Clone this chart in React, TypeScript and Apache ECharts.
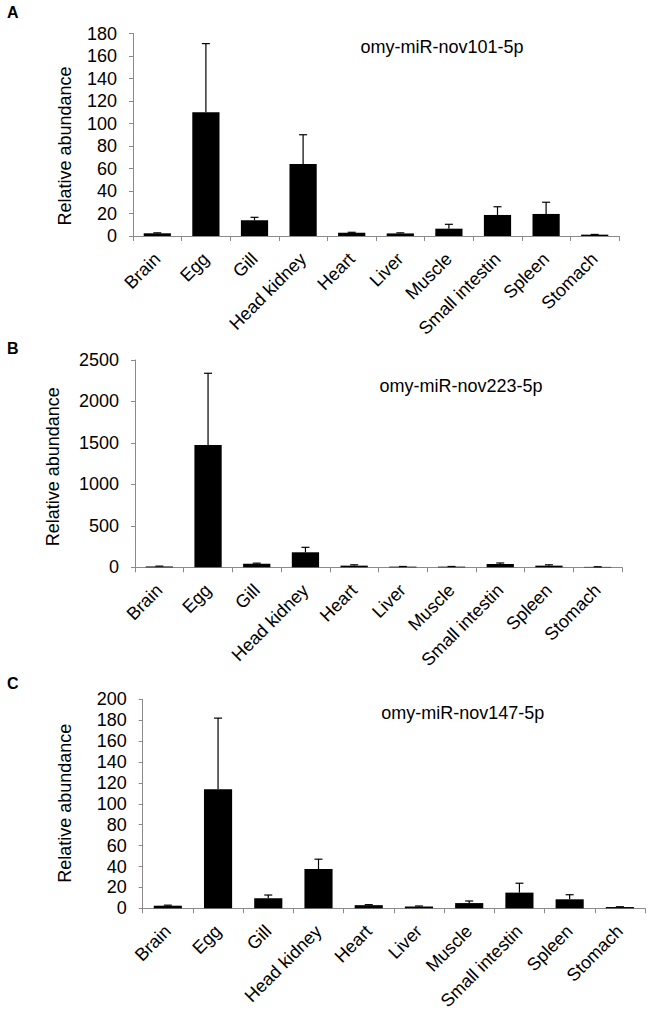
import React, { useEffect, useRef } from "react";
import * as echarts from "echarts";

const categories = ["Brain", "Egg", "Gill", "Head kidney", "Heart", "Liver", "Muscle", "Small intestin", "Spleen", "Stomach"];

const meanA = [2.4, 110, 14, 64, 2.9, 2.3, 6.5, 18.7, 19.6, 1.2];
const errTopA = [2.8, 171, 16.6, 90, 3.3, 2.8, 10.4, 26, 30, 1.4];

const meanB = [10, 1475, 43, 181, 20, 8, 8, 40, 20, 5];
const errTopB = [14, 2340, 50, 241, 30, 10, 10, 52, 30, 7];

const meanC = [2.5, 114, 9.5, 37.6, 3, 1.8, 5, 15, 8.6, 1.2];
const errTopC = [3, 182, 12.7, 47, 3.5, 2.2, 7, 24, 13, 1.5];

const titles = ["omy-miR-nov101-5p", "omy-miR-nov223-5p", "omy-miR-nov147-5p"];
const panelLetters = ["A", "B", "C"];
const yTicks = [
  { max: 180, interval: 20 },
  { max: 2500, interval: 500 },
  { max: 200, interval: 20 },
];

const FONT = "'Liberation Sans', Arial, Helvetica, sans-serif";

export default function App() {
  const ref = useRef<HTMLDivElement>(null);
  useEffect(() => {
    document.body.style.margin = "0";
    const chart = echarts.init(ref.current!, null, { renderer: "svg" });
    const grids = [
      { left: 133, width: 486, top: 33.5, height: 202.5 },
      { left: 135, width: 487, top: 360, height: 207.3 },
      { left: 142.7, width: 502.3, top: 699.3, height: 209 },
    ];
    const means = [meanA, meanB, meanC];
    const errs = [errTopA, errTopB, errTopC];
    const titlePos = [
      [442, 46.7],
      [461, 386],
      [462.7, 713.3],
    ];
    const letterPos = [12.7, 348, 683.5];
    const yNamePos = [
      [65, 146],
      [53.3, 466.7],
      [65, 803.3],
    ];
    const axisColor = "#8a8a8a";

    const xAxis = grids.map((_, i) => ({
      type: "category",
      gridIndex: i,
      data: categories,
      boundaryGap: true,
      axisLine: { lineStyle: { color: axisColor, width: 1 } },
      axisTick: { show: true, length: 5, lineStyle: { color: axisColor } },
      axisLabel: { rotate: 45, interval: 0, margin: 20, color: "#000", fontSize: 18, fontFamily: FONT },
    }));
    const yAxis = grids.map((_, i) => ({
      type: "value",
      gridIndex: i,
      min: 0,
      max: yTicks[i].max,
      interval: yTicks[i].interval,
      splitLine: { show: false },
      axisLine: { show: true, lineStyle: { color: axisColor, width: 1 } },
      axisTick: { show: true, length: 4, lineStyle: { color: axisColor } },
      axisLabel: { margin: 16, color: "#000", fontSize: 18, fontFamily: FONT, formatter: (v: number) => String(v) },
    }));
    const series: any[] = [];
    grids.forEach((_, i) => {
      series.push({
        type: "bar",
        xAxisIndex: i,
        yAxisIndex: i,
        data: means[i],
        barWidth: "56%",
        itemStyle: { color: "#000" },
      });
      series.push({
        type: "custom",
        xAxisIndex: i,
        yAxisIndex: i,
        data: means[i].map((m, k) => [k, m, errs[i][k]]),
        encode: { x: 0, y: [1, 2] },
        renderItem: (params: any, api: any) => {
          const base = api.coord([api.value(0), api.value(1)]);
          const top = api.coord([api.value(0), api.value(2)]);
          const st = { stroke: "#000", lineWidth: 1.2 };
          return {
            type: "group",
            children: [
              { type: "line", shape: { x1: base[0], y1: base[1], x2: base[0], y2: top[1] }, style: st },
              { type: "line", shape: { x1: base[0] - 4, y1: top[1], x2: base[0] + 4, y2: top[1] }, style: st },
            ],
          };
        },
        z: 3,
      });
    });
    const graphic: any[] = [];
    grids.forEach((_, i) => {
      graphic.push({
        type: "text",
        x: titlePos[i][0],
        y: titlePos[i][1],
        style: { text: titles[i], fontSize: 18, fontFamily: FONT, fill: "#000", textAlign: "center", textVerticalAlign: "middle" },
      });
      graphic.push({
        type: "text",
        x: 7,
        y: letterPos[i],
        style: { text: panelLetters[i], fontSize: 16, fontWeight: "bold", fontFamily: FONT, fill: "#000", textAlign: "left", textVerticalAlign: "middle" },
      });
      graphic.push({
        type: "text",
        x: yNamePos[i][0],
        y: yNamePos[i][1],
        rotation: Math.PI / 2,
        style: { text: "Relative abundance", fontSize: 18, fontFamily: FONT, fill: "#000", textAlign: "center", textVerticalAlign: "middle" },
      });
    });

    chart.setOption({
      animation: false,
      backgroundColor: "#fff",
      grid: grids,
      xAxis,
      yAxis,
      series,
      graphic,
    });
    return () => chart.dispose();
  }, []);
  return <div ref={ref} style={{ width: 652, height: 1018 }} />;
}
